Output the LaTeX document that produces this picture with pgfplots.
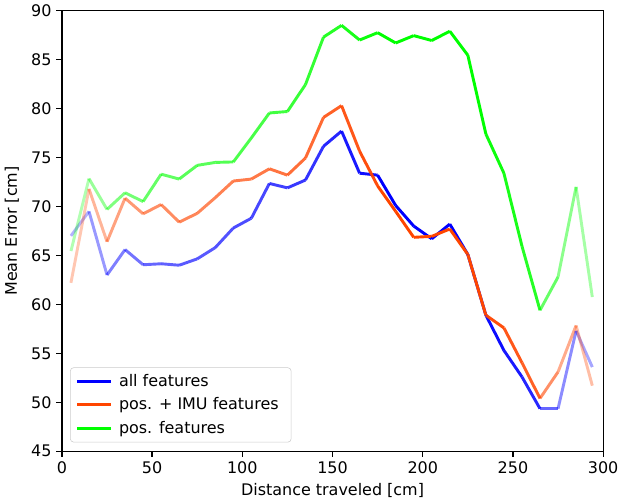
\documentclass[border=0pt]{standalone}
\usepackage{fontspec}
\setmainfont{DejaVu Sans}
\usepackage{pgfplots}
\usepackage{pgfplotstable}
\pgfplotsset{compat=1.18}

\definecolor{cblue}{RGB}{0,0,255}
\definecolor{corange}{RGB}{255,69,0}
\definecolor{cgreen}{RGB}{0,255,0}

\pgfplotstableread{
x   all   imu   pos
5   67.0  62.2  65.45
15  69.5  71.8  72.85
25  63.0  66.4  69.7
35  65.6  70.85 71.4
45  64.05 69.25 70.5
55  64.15 70.2  73.3
65  64.0  68.4  72.8
75  64.65 69.3  74.2
85  65.8  70.9  74.5
95  67.8  72.6  74.55
105 68.8  72.8  77.0
115 72.35 73.85 79.55
125 71.9  73.2  79.7
135 72.7  74.95 82.45
145 76.15 79.1  87.3
155 77.7  80.3  88.5
165 73.4  75.65 87.0
175 73.2  72.1  87.75
185 70.1  69.5  86.7
195 68.0  66.85 87.45
205 66.7  66.95 86.95
215 68.2  67.7  87.9
225 65.1  65.1  85.45
235 58.9  58.9  77.4
245 55.3  57.6  73.4
255 52.6  54.05 65.95
265 49.35 50.4  59.4
275 49.35 53.1  62.8
285 57.3  57.85 72.0
294 53.6  51.7  60.75
}\errtab

\begin{document}
\begin{tikzpicture}[font=\fontsize{11.5pt}{13.8pt}\selectfont]
\begin{axis}[
  scale only axis,
  width=390pt, height=317.5pt,
  xmin=0, xmax=300, ymin=45, ymax=90,
  xtick={0,50,...,300}, ytick={45,50,...,90},
  tick align=outside, tick pos=left,
  major tick length=4pt,
  axis line style={line width=0.9pt},
  every tick/.style={black, line width=0.9pt},
  /pgf/number format/assume math mode=true,
  xlabel={Distance traveled [cm]},
  ylabel={Mean Error [cm]},
  xlabel style={yshift=0pt},
  ylabel style={yshift=2pt},
  legend cell align=left,
  legend style={at={(0.015,0.02)}, anchor=south west, draw=black!20,
    rounded corners=2.5pt, fill=white, fill opacity=0.8, text opacity=1,
    inner xsep=4pt, inner ysep=3pt, row sep=2.5pt,
    nodes={inner xsep=5pt}},
  legend image code/.code={\draw[#1, line width=2.1pt] (0pt,0pt) -- (24pt,0pt);},
]
\foreach \xa/\xb/\op in {5/15/0.3, 15/25/0.4, 25/35/0.5, 35/45/0.55, 45/55/0.6,
  55/65/0.62, 65/75/0.65, 75/85/0.65, 85/95/0.68, 95/105/0.7, 105/115/0.72,
  115/125/0.75, 125/135/0.78, 135/145/0.8, 145/155/0.85, 155/165/0.9,
  165/175/0.95, 175/185/1, 185/195/1, 195/205/1, 205/215/1, 215/225/1,
  225/235/1, 235/245/0.95, 245/255/0.9, 255/265/0.85, 265/275/0.6,
  275/285/0.45, 285/294/0.35}{
  \edef\tmp{\noexpand\addplot[cblue, line width=2.1pt, opacity=\op, forget plot,
    restrict x to domain=\xa:\xb] table[x=x, y=all] {\noexpand\errtab};
    \noexpand\addplot[corange, line width=2.1pt, opacity=\op, forget plot,
    restrict x to domain=\xa:\xb] table[x=x, y=imu] {\noexpand\errtab};
    \noexpand\addplot[cgreen, line width=2.1pt, opacity=\op, forget plot,
    restrict x to domain=\xa:\xb] table[x=x, y=pos] {\noexpand\errtab};}
  \tmp
}
\addlegendimage{cblue}\addlegendentry{all features}
\addlegendimage{corange}\addlegendentry{pos. + IMU features}
\addlegendimage{cgreen}\addlegendentry{pos. features}
\end{axis}
\end{tikzpicture}
\end{document}
